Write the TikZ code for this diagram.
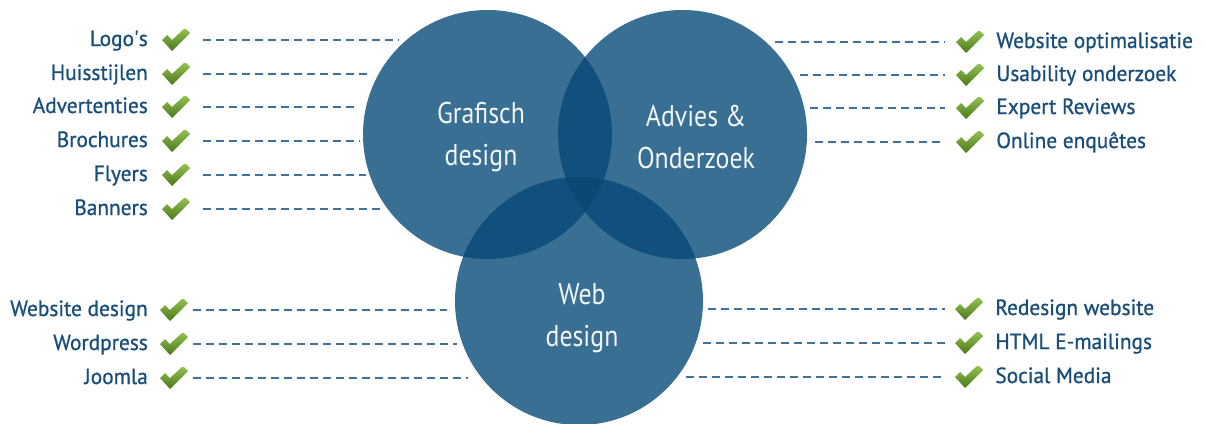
\documentclass[tikz,border=0pt]{standalone}
\usepackage{fontspec}
\setmainfont{PT Sans}
\newfontfamily\circlefont{PT Sans}[FakeStretch=0.86]
\newfontfamily\itemfont{PT Sans}[FakeBold=0.9,FakeStretch=0.97]
\usepackage{tikz}
\usetikzlibrary{positioning,calc}

\definecolor{vennblue}{HTML}{386F93}
\definecolor{venndark}{HTML}{11507D}
\definecolor{venncore}{HTML}{0C4874}
\definecolor{labelblue}{HTML}{1A4E7A}
\definecolor{dashblue}{HTML}{3F729A}
\definecolor{ticklight}{HTML}{97C455}
\definecolor{tickdark}{HTML}{4A7819}

\begin{document}
\begin{tikzpicture}[x=1pt,y=-1pt,
        bubble/.style={circle,fill=vennblue,inner sep=0pt,outer sep=0pt,
          minimum size=249pt},
        webbubble/.style={bubble,minimum size=248pt},
        title/.style={text=white!93!vennblue,align=center,
          font=\circlefont\fontsize{30}{42}\selectfont},
        item/.style={text=labelblue,inner sep=0pt,text height=15pt,text depth=3pt,
          font=\itemfont\fontsize{22}{26}\selectfont},
        tick/.style={minimum width=28pt,minimum height=22pt,inner sep=0pt,
          path picture={
            \begin{scope}[shift={(path picture bounding box.center)}]
              \shade[top color=ticklight,bottom color=tickdark]
                (-14,0) -- (-9,-5) -- (-4,0) -- (9,-12) -- (14,-7) -- (-4,11) -- cycle;
            \end{scope}}},
        link/.style={dashblue,line width=1.1pt,dash pattern=on 8pt off 5pt}]
      \useasboundingbox (0,0) rectangle (1206,423);
      \clip (0,0) rectangle (1206,423);

      % the three circles
      \node (grafisch) at (487.5,134.5) [bubble] {};
      \node (advies) at (682.5,134.5) [bubble] {};
      \node (web) at (579,301) [webbubble] {};

      % overlaps
      \begin{scope}
        \clip (487.5,134.5) circle (124.5);
        \fill[venndark] (682.5,134.5) circle (124.5);
        \fill[venndark] (579,301) circle (124);
      \end{scope}
      \begin{scope}
        \clip (682.5,134.5) circle (124.5);
        \fill[venndark] (579,301) circle (124);
      \end{scope}
      \begin{scope}
        \clip (487.5,134.5) circle (124.5);
        \clip (682.5,134.5) circle (124.5);
        \fill[venncore] (579,301) circle (124);
      \end{scope}

      \node (grafisch-t) at (481,137) [title] {Grafisch\\design};
      \node (advies-t) at (696,137) [title] {Advies \&\\Onderzoek};
      \node (web-t) at (582,318) [title] {Web\\design};

      % Grafisch design
      \node (logos) at (148,40) [item,anchor=east] {Logo\textquotesingle s};
      \node (huisstijl) at (148,74) [item,anchor=east] {Huisstijlen};
      \node (advert) at (148,107) [item,anchor=east] {Advertenties};
      \node (brochure) at (148,141) [item,anchor=east] {Brochures};
      \node (flyer) at (148,175) [item,anchor=east] {Flyers};
      \node (banner) at (148,209) [item,anchor=east] {Banners};
      \node (logos-ok) at (176,40) [tick] {};
      \node (huisstijl-ok) at (176,74) [tick] {};
      \node (advert-ok) at (176,107) [tick] {};
      \node (brochure-ok) at (176,141) [tick] {};
      \node (flyer-ok) at (176,175) [tick] {};
      \node (banner-ok) at (176,209) [tick] {};

      % Advies & Onderzoek
      \node (seo-ok) at (970,42) [tick] {};
      \node (usab-ok) at (970,75) [tick] {};
      \node (expert-ok) at (970,108) [tick] {};
      \node (enquete-ok) at (970,142) [tick] {};
      \node (seo) [item,right=12pt of seo-ok] {Website optimalisatie};
      \node (usab) [item,right=12pt of usab-ok] {Usability onderzoek};
      \node (expert) [item,right=12pt of expert-ok] {Expert Reviews};
      \node (enquete) [item,right=12pt of enquete-ok] {Online enquêtes};

      % Web design
      \node (webdes) at (148,310) [item,anchor=east] {Website design};
      \node (wordpress) at (148,344) [item,anchor=east] {Wordpress};
      \node (joomla) at (148,378) [item,anchor=east] {Joomla};
      \node (webdes-ok) at (174,310) [tick] {};
      \node (wordpress-ok) at (174,344) [tick] {};
      \node (joomla-ok) at (174,378) [tick] {};
      \node (redesign-ok) at (969,309) [tick] {};
      \node (mailing-ok) at (969,343) [tick] {};
      \node (social-ok) at (969,377) [tick] {};
      \node (redesign) [item,right=12pt of redesign-ok] {Redesign website};
      \node (mailing) [item,right=12pt of mailing-ok] {HTML E-mailings};
      \node (social) [item,right=12pt of social-ok] {Social Media};

      % dashed links
      \draw[link,shorten <=13pt,shorten >=8pt] (logos-ok.east) -- (logos-ok.east -| grafisch.130);
      \draw[link,shorten <=13pt,shorten >=7pt] (huisstijl-ok.east) -- (huisstijl-ok.east -| grafisch.151);
      \draw[link,shorten <=13pt,shorten >=7pt] (advert-ok.east) -- (advert-ok.east -| grafisch.167);
      \draw[link,shorten <=13pt,shorten >=3pt] (brochure-ok.east) -- (brochure-ok.east -| grafisch.183);
      \draw[link,shorten <=13pt,shorten >=4pt] (flyer-ok.east) -- (flyer-ok.east -| grafisch.199);
      \draw[link,shorten <=13pt,shorten >=2pt] (banner-ok.east) -- (banner-ok.east -| grafisch.216);

      \draw[link,shorten <=9pt,shorten >=11pt] (seo-ok.west -| advies.48) -- (seo-ok.west);
      \draw[link,shorten <=9pt,shorten >=11pt] (usab-ok.west -| advies.29) -- (usab-ok.west);
      \draw[link,shorten <=6pt,shorten >=11pt] (expert-ok.west -| advies.13) -- (expert-ok.west);
      \draw[link,shorten <=8pt,shorten >=11pt] (enquete-ok.west -| advies.-3) -- (enquete-ok.west);

      \draw[link,shorten <=5pt,shorten >=8pt] (webdes-ok.east) -- (webdes-ok.east -| web.184);
      \draw[link,shorten <=5pt,shorten >=5pt] (wordpress-ok.east) -- (wordpress-ok.east -| web.200);
      \draw[link,shorten <=5pt,shorten >=15pt] (joomla-ok.east) -- (joomla-ok.east -| web.219);
      \draw[link,shorten <=5pt,shorten >=10pt] (redesign-ok.west -| web.-4) -- (redesign-ok.west);
      \draw[link,shorten <=7pt,shorten >=10pt] (mailing-ok.west -| web.-20) -- (mailing-ok.west);
      \draw[link,shorten <=9pt,shorten >=10pt] (social-ok.west -| web.-38) -- (social-ok.west);
    \end{tikzpicture}
\end{document}
